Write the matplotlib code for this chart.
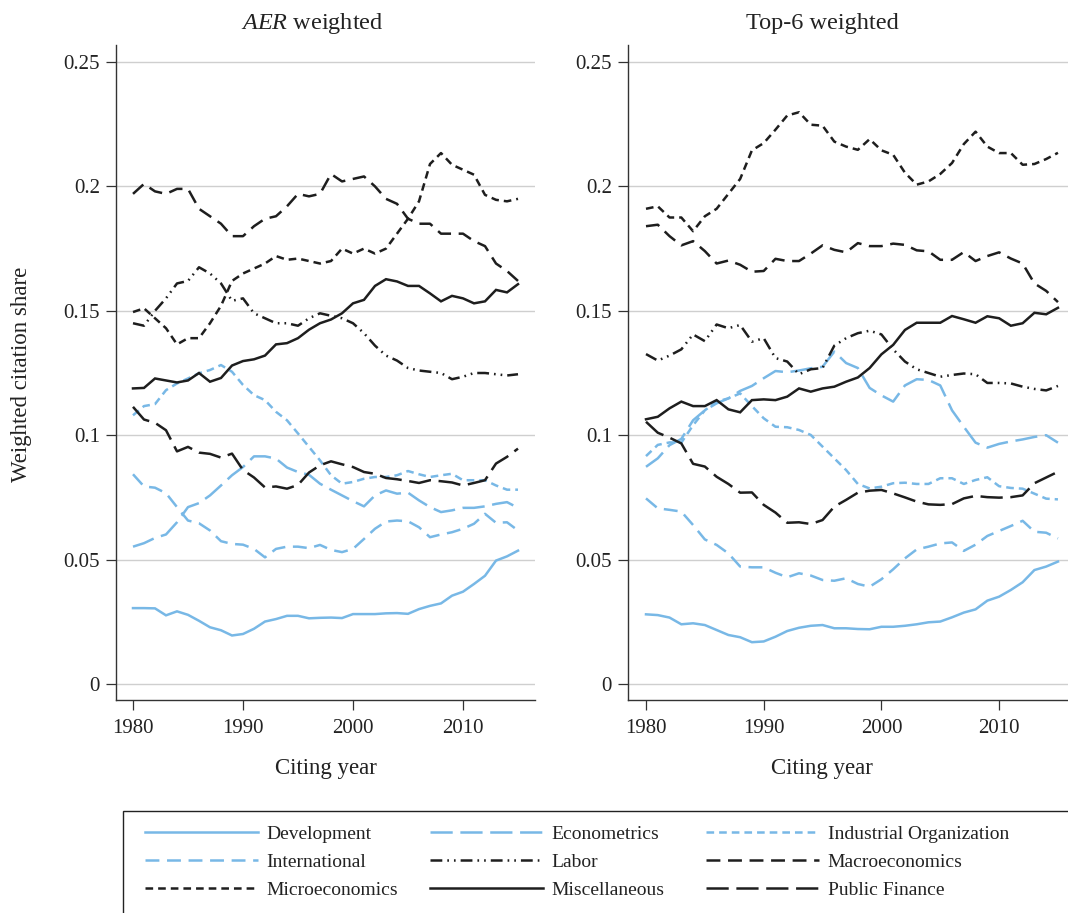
import matplotlib
matplotlib.use("Agg")
import matplotlib.pyplot as plt
from matplotlib.patches import Rectangle

plt.rcParams['font.family'] = ['Liberation Serif', 'DejaVu Serif']
plt.rcParams['mathtext.fontset'] = 'custom'
plt.rcParams['mathtext.rm'] = 'Liberation Serif'
plt.rcParams['mathtext.it'] = 'Liberation Serif:italic'
plt.rcParams['lines.scale_dashes'] = False

years = list(range(1980, 2016))
fields = ["Development", "Econometrics", "Industrial Organization", "International",
          "Labor", "Macroeconomics", "Microeconomics", "Miscellaneous", "Public Finance"]
panel_titles = [r"$\mathit{AER}$ weighted", "Top-6 weighted"]
x_ticks = [1980, 1990, 2000, 2010]
y_ticks = [0, 0.05, 0.1, 0.15, 0.2, 0.25]
y_ticklabels = ["0", "0.05", "0.1", "0.15", "0.2", "0.25"]

# ---- AER weighted ----
dev_aer = [0.0305, 0.0305, 0.0304, 0.0276, 0.0292, 0.0278, 0.0254, 0.0228, 0.0216, 0.0195,
           0.0201, 0.0222, 0.0251, 0.0261, 0.0274, 0.0274, 0.0264, 0.0266, 0.0267, 0.0265,
           0.0281, 0.0281, 0.0281, 0.0284, 0.0285, 0.0282, 0.0301, 0.0314, 0.0324, 0.0355,
           0.0371, 0.0402, 0.0435, 0.0496, 0.0513, 0.0536]
econ_aer = [0.0552, 0.0566, 0.0587, 0.0601, 0.0650, 0.0711, 0.0727, 0.0758, 0.0798, 0.0839,
            0.0872, 0.0915, 0.0915, 0.0906, 0.0870, 0.0852, 0.0841, 0.0805, 0.0781, 0.0758,
            0.0735, 0.0714, 0.0758, 0.0778, 0.0765, 0.0769, 0.0738, 0.0711, 0.0691, 0.0698,
            0.0708, 0.0708, 0.0714, 0.0724, 0.0731, 0.0708]
io_aer = [0.1080, 0.1117, 0.1125, 0.1181, 0.1208, 0.1228, 0.1249, 0.1262, 0.1282, 0.1255,
          0.1202, 0.1161, 0.1141, 0.1094, 0.1060, 0.1007, 0.0953, 0.0899, 0.0839, 0.0805,
          0.0812, 0.0825, 0.0832, 0.0832, 0.0839, 0.0856, 0.0843, 0.0832, 0.0839, 0.0845,
          0.0819, 0.0819, 0.0819, 0.0798, 0.0781, 0.0781]
intl_aer = [0.0843, 0.0794, 0.0789, 0.0767, 0.0711, 0.0657, 0.0646, 0.0617, 0.0574, 0.0563,
            0.0560, 0.0543, 0.0509, 0.0543, 0.0552, 0.0552, 0.0546, 0.0559, 0.0539, 0.0530,
            0.0543, 0.0583, 0.0624, 0.0653, 0.0657, 0.0654, 0.0630, 0.0590, 0.0601, 0.0610,
            0.0624, 0.0644, 0.0684, 0.0648, 0.0650, 0.0617]
labor_aer = [0.145, 0.144, 0.150, 0.155, 0.161, 0.162, 0.1675, 0.165, 0.161, 0.154,
             0.155, 0.149, 0.147, 0.145, 0.145, 0.144, 0.147, 0.149, 0.148, 0.147,
             0.145, 0.141, 0.136, 0.132, 0.130, 0.127, 0.126, 0.1255, 0.125, 0.1225,
             0.1235, 0.125, 0.125, 0.1245, 0.124, 0.1245]
macro_aer = [0.197, 0.201, 0.198, 0.197, 0.199, 0.199, 0.191, 0.188, 0.185, 0.180,
             0.180, 0.184, 0.187, 0.188, 0.192, 0.197, 0.196, 0.197, 0.205, 0.202,
             0.203, 0.204, 0.200, 0.195, 0.193, 0.187, 0.185, 0.185, 0.181, 0.181,
             0.181, 0.178, 0.176, 0.169, 0.166, 0.162]
micro_aer = [0.1495, 0.151, 0.147, 0.143, 0.1365, 0.139, 0.139, 0.145, 0.152, 0.162,
             0.165, 0.167, 0.169, 0.172, 0.1705, 0.171, 0.170, 0.169, 0.170, 0.175,
             0.173, 0.175, 0.173, 0.175, 0.181, 0.187, 0.194, 0.209, 0.2134, 0.2087,
             0.2067, 0.2047, 0.1966, 0.1946, 0.194, 0.195]
misc_aer = [0.1188, 0.119, 0.1228, 0.122, 0.1212, 0.122, 0.125, 0.1215, 0.123, 0.128,
            0.1298, 0.1305, 0.132, 0.1365, 0.137, 0.139, 0.1424, 0.145, 0.1465, 0.149,
            0.153, 0.1544, 0.160, 0.1627, 0.1618, 0.160, 0.160, 0.157, 0.1538, 0.156,
            0.155, 0.153, 0.1538, 0.1584, 0.1574, 0.1607]
pf_aer = [0.1114, 0.1063, 0.105, 0.102, 0.0935, 0.0953, 0.093, 0.0925, 0.091, 0.0926,
          0.086, 0.083, 0.079, 0.0794, 0.0785, 0.080, 0.085, 0.0879, 0.0895, 0.0883,
          0.0872, 0.0852, 0.0845, 0.0828, 0.0823, 0.0816, 0.0808, 0.0819, 0.0815, 0.081,
          0.0798, 0.0808, 0.0819, 0.0886, 0.0913, 0.0946]

# ---- Top-6 weighted ----
dev_top6 = [0.028, 0.0277, 0.0267, 0.024, 0.0244, 0.0237, 0.0217, 0.0197, 0.0188, 0.0168,
            0.0171, 0.019, 0.0213, 0.0226, 0.0234, 0.0237, 0.0224, 0.0224, 0.0221, 0.022,
            0.023, 0.023, 0.0234, 0.024, 0.0248, 0.0251, 0.0268, 0.0287, 0.030, 0.0335,
            0.0351, 0.0378, 0.0409, 0.0458, 0.0472, 0.0492]
econ_top6 = [0.0873, 0.0907, 0.096, 0.0985, 0.106, 0.110, 0.1128, 0.1148, 0.1178, 0.1198,
             0.1229, 0.1258, 0.1253, 0.126, 0.1269, 0.1275, 0.1336, 0.129, 0.127, 0.119,
             0.116, 0.1135, 0.120, 0.1225, 0.1222, 0.120, 0.110, 0.1034, 0.097, 0.095,
             0.0965, 0.0975, 0.0983, 0.0993, 0.100, 0.097]
io_top6 = [0.0916, 0.0961, 0.0971, 0.097, 0.104, 0.110, 0.1135, 0.1148, 0.1168, 0.1117,
           0.1068, 0.1034, 0.1032, 0.1021, 0.1001, 0.0954, 0.0907, 0.086, 0.0804, 0.0786,
           0.0793, 0.0807, 0.0809, 0.0804, 0.0804, 0.0827, 0.0827, 0.0804, 0.082, 0.0831,
           0.0795, 0.0788, 0.0785, 0.0765, 0.0745, 0.0742]
intl_top6 = [0.0746, 0.0706, 0.070, 0.0693, 0.0639, 0.0581, 0.0559, 0.0525, 0.0472, 0.0469,
             0.0469, 0.0447, 0.0429, 0.0445, 0.0436, 0.0418, 0.0415, 0.0425, 0.0402, 0.0391,
             0.0421, 0.0461, 0.0505, 0.0541, 0.0552, 0.0565, 0.0569, 0.0535, 0.056, 0.0595,
             0.0615, 0.0635, 0.0656, 0.0612, 0.0608, 0.0585]
labor_top6 = [0.1326, 0.130, 0.132, 0.1345, 0.1405, 0.1378, 0.1445, 0.143, 0.1443, 0.1376,
              0.139, 0.131, 0.1296, 0.1245, 0.1265, 0.127, 0.136, 0.139, 0.141, 0.142,
              0.1405, 0.1345, 0.1296, 0.1265, 0.125, 0.1235, 0.1242, 0.1248, 0.1245, 0.121,
              0.121, 0.1208, 0.1195, 0.1186, 0.118, 0.1198]
macro_top6 = [0.184, 0.1846, 0.180, 0.1763, 0.178, 0.174, 0.169, 0.1702, 0.1685, 0.1657,
              0.166, 0.1709, 0.170, 0.170, 0.173, 0.1763, 0.1745, 0.1735, 0.1772, 0.176,
              0.176, 0.177, 0.1765, 0.1743, 0.1739, 0.1705, 0.1705, 0.1736, 0.170, 0.172,
              0.1735, 0.171, 0.169, 0.161, 0.158, 0.1535]
micro_top6 = [0.191, 0.192, 0.1875, 0.1875, 0.182, 0.188, 0.191, 0.197, 0.203, 0.2145,
              0.2174, 0.2228, 0.2285, 0.2298, 0.2248, 0.2244, 0.218, 0.216, 0.2147, 0.219,
              0.2145, 0.2127, 0.2055, 0.2007, 0.202, 0.205, 0.2094, 0.217, 0.222, 0.216,
              0.2134, 0.2134, 0.2087, 0.209, 0.211, 0.2135]
misc_top6 = [0.1064, 0.1074, 0.1108, 0.1135, 0.1117, 0.1117, 0.1141, 0.1104, 0.1092, 0.1141,
             0.1144, 0.1141, 0.1155, 0.1188, 0.1175, 0.1188, 0.1195, 0.1215, 0.1232, 0.127,
             0.1325, 0.1363, 0.1423, 0.1452, 0.1452, 0.1452, 0.1479, 0.1466, 0.1452, 0.1478,
             0.147, 0.144, 0.145, 0.1492, 0.1486, 0.1512]
pf_top6 = [0.1054, 0.101, 0.099, 0.0967, 0.0885, 0.0874, 0.0833, 0.0804, 0.0769, 0.077,
           0.072, 0.0689, 0.0648, 0.065, 0.0643, 0.0659, 0.0713, 0.074, 0.0769, 0.0777,
           0.078, 0.0766, 0.075, 0.0733, 0.0722, 0.072, 0.0723, 0.0746, 0.0756, 0.0751,
           0.0749, 0.0751, 0.0758, 0.0807, 0.083, 0.0853]

series_aer = [dev_aer, econ_aer, io_aer, intl_aer, labor_aer, macro_aer, micro_aer, misc_aer, pf_aer]
series_top6 = [dev_top6, econ_top6, io_top6, intl_top6, labor_top6, macro_top6, micro_top6, misc_top6, pf_top6]

# ---- styles ----
BLUE = '#78b8e6'
BLACK = '#1e1e1e'
LW = 1.8
LONG = (0, (16, 5.5))
MED = (0, (10, 5.5))
SHORT = (0, (5.5, 3.6))
DASHDOTDOT = (0, (8.5, 3.6, 1.2, 3.6, 1.2, 3.6))
styles = [
    (BLUE, '-'), (BLUE, LONG), (BLUE, SHORT), (BLUE, MED),
    (BLACK, DASHDOTDOT), (BLACK, MED), (BLACK, SHORT), (BLACK, '-'), (BLACK, LONG),
]

W, H = 1068, 913
fig = plt.figure(figsize=(W / 100, H / 100), dpi=100)
fig.patch.set_facecolor('white')

def fx(px):
    return px / W

def fy(py):
    return 1 - py / H

axL = fig.add_axes([fx(116), fy(700), (535 - 116) / W, (700 - 45) / H])
axR = fig.add_axes([fx(628), fy(700), (1068 - 628) / W, (700 - 45) / H])

ylim = (-(700 - 684) / 2488, 0.25 + (62 - 45) / 2488)
xlims = [(1980 - 17 / 11.0, 1980 + (535 - 133) / 11.0),
         (1980 - 18 / 11.77, 1980 + (1068 - 646) / 11.77)]

for ax, data, xl in [(axL, series_aer, xlims[0]), (axR, series_top6, xlims[1])]:
    for name, vals, (c, ls) in zip(fields, data, styles):
        ax.plot(years, vals, color=c, linestyle=ls, lw=LW, label=name,
                solid_joinstyle='miter', dash_capstyle='butt')
    ax.set_xlim(*xl)
    ax.set_ylim(*ylim)
    ax.set_xticks(x_ticks)
    ax.set_xticklabels([str(t) for t in x_ticks])
    ax.set_yticks(y_ticks)
    ax.set_yticklabels(y_ticklabels)
    ax.grid(axis='y', color='#cfcfcf', lw=1.0)
    ax.set_axisbelow(True)
    for s in ['top', 'right']:
        ax.spines[s].set_visible(False)
    for s in ['left', 'bottom']:
        ax.spines[s].set_color('#333333')
        ax.spines[s].set_linewidth(1.0)
    ax.tick_params(axis='both', direction='out', length=7.5, width=0.9, color='#333333',
                   labelsize=15, labelcolor='#222222')
    ax.tick_params(axis='y', pad=4)
    ax.tick_params(axis='x', pad=6)
    ax.set_facecolor('white')

# titles and axis labels
fig.text(fx(312), fy(23), panel_titles[0], ha='center', va='center', fontsize=17.5, color='#222222')
fig.text(fx(822), fy(23), panel_titles[1], ha='center', va='center', fontsize=17.5, color='#222222')
fig.text(fx(326), fy(768), "Citing year", ha='center', va='center', fontsize=16.5, color='#222222')
fig.text(fx(822), fy(768), "Citing year", ha='center', va='center', fontsize=16.5, color='#222222')
fig.text(fx(22), fy(374), "Weighted citation share", ha='center', va='center', rotation=90,
         fontsize=16.5, color='#222222')

# legend frame (extends past figure edge as in the reference)
fig.patches.append(Rectangle((fx(123), fy(925)), (1080 - 123) / W, (925 - 811) / H,
                             transform=fig.transFigure, fill=False, ec='#222222', lw=1.0))

handles = axL.get_lines()
col_order = [[0, 3, 6], [1, 4, 7], [2, 5, 8]]
col_x = [145, 430, 706]
for idxs, xpos in zip(col_order, col_x):
    lg = fig.legend([handles[i] for i in idxs], [fields[i] for i in idxs],
                    loc='center left', bbox_to_anchor=(fx(xpos), fy(862)),
                    frameon=False, borderpad=0, borderaxespad=0,
                    handlelength=5.8, handletextpad=0.45, labelspacing=0.53,
                    fontsize=14)
    for t in lg.get_texts():
        t.set_color('#222222')

fig.savefig("out.png", dpi=100, facecolor='white')
